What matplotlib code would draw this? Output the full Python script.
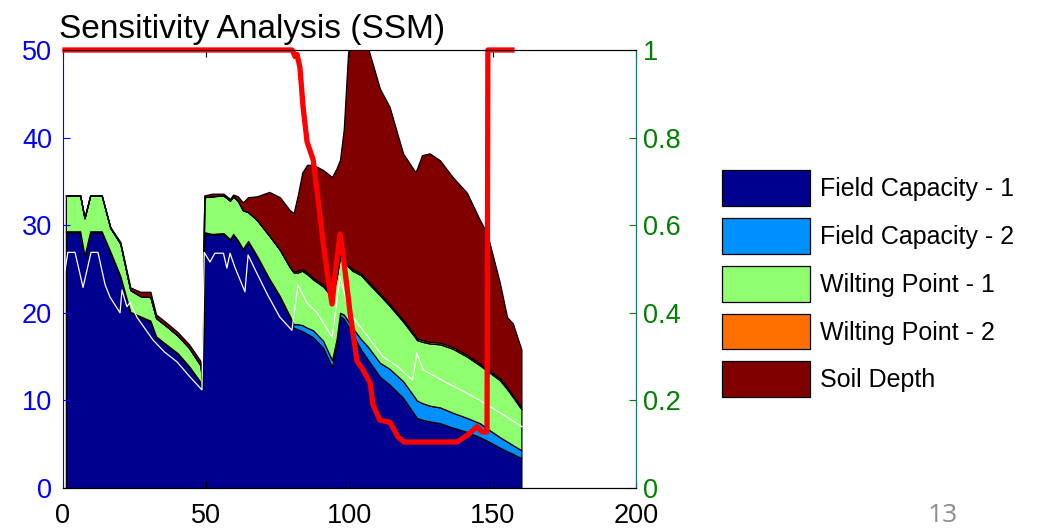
import numpy as np
import matplotlib
matplotlib.use("Agg")
import matplotlib.pyplot as plt

plt.rcParams['font.family'] = ['Liberation Sans', 'DejaVu Sans']

# sample positions along x where the stacked layers were read
x = [1, 6, 7.5, 9.5, 13.5, 16.5, 20, 23.5, 27, 30.5, 32.5, 36, 40, 44, 48, 48.7,
     49.3, 52, 56, 58.3, 59.4, 61, 62.8, 64.6, 67.7, 72, 75.7, 79.2, 80.5, 82,
     83.5, 85.2, 87.3, 90.8, 93.9, 95.5, 96.7, 98, 99.5, 101, 104, 106.5, 110.6,
     114, 118.7, 122.9, 123.5, 125.3, 128, 131.6, 136, 141, 145.5, 148, 152.5,
     155, 157, 160]

# cumulative top of each layer (left axis)
fc1_top = [29.2, 29.2, 26.4, 29.2, 29.2, 26.9, 24.1, 20.0, 19.5, 19.0, 17.2, 16.3,
           15.3, 13.8, 12.0, 11.2, 29.1, 28.9, 29.0, 28.3, 28.9, 28.2, 27.2, 28.1,
           26.4, 23.8, 21.8, 19.5, 18.3, 18.1, 17.9, 17.6, 17.2, 16.0, 13.8, 16.5,
           19.6, 19.3, 18.5, 17.6, 15.8, 14.6, 12.7, 11.8, 10.3, 8.3, 8.0, 7.8,
           7.6, 7.4, 6.9, 6.4, 5.8, 5.4, 4.6, 4.2, 3.9, 3.4]
fc2_top = [29.3, 29.3, 26.5, 29.3, 29.3, 27.0, 24.2, 20.1, 19.6, 19.1, 17.3, 16.4,
           15.4, 13.9, 12.1, 11.3, 29.2, 29.0, 29.1, 28.4, 29.0, 28.3, 27.3, 28.2,
           26.5, 23.9, 21.9, 19.6, 18.7, 18.7, 18.6, 18.3, 18.0, 16.8, 14.6, 17.0,
           20.0, 19.8, 19.1, 18.3, 17.0, 16.1, 14.3, 13.6, 12.2, 10.3, 10.0, 9.7,
           9.4, 9.2, 8.6, 8.0, 7.4, 6.8, 5.8, 5.3, 4.9, 4.3]
wp1_top = [33.4, 33.4, 30.8, 33.4, 33.4, 29.7, 27.9, 22.6, 21.9, 21.8, 19.4, 18.5,
           17.4, 16.0, 14.0, 11.6, 33.2, 33.3, 33.4, 32.8, 33.3, 32.8, 31.7, 31.5,
           30.6, 28.8, 27.2, 25.2, 24.6, 24.6, 24.8, 24.4, 23.8, 23.0, 21.8, 24.0,
           26.4, 25.9, 25.3, 24.8, 24.3, 23.4, 22.0, 20.8, 19.0, 17.2, 16.9, 16.7,
           16.5, 16.4, 15.9, 15.0, 14.0, 13.4, 12.3, 11.3, 10.4, 9.0]
wp2_top = [33.4, 33.4, 30.8, 33.4, 33.4, 29.7, 27.9, 22.6, 21.9, 21.8, 19.4, 18.5,
           17.4, 16.0, 14.0, 11.6, 33.2, 33.3, 33.4, 32.8, 33.3, 32.8, 31.7, 31.5,
           30.6, 28.8, 27.2, 25.2, 24.7, 24.8, 25.0, 24.6, 24.0, 23.2, 22.0, 24.2,
           26.6, 26.1, 25.5, 25.0, 24.5, 23.6, 22.2, 21.0, 19.2, 17.4, 17.1, 16.9,
           16.7, 16.6, 16.1, 15.2, 14.2, 13.6, 12.5, 11.5, 10.6, 9.2]
sd_top = [33.4, 33.4, 30.8, 33.4, 33.4, 29.8, 28.1, 22.9, 22.4, 22.4, 19.8, 18.9,
          17.8, 16.4, 14.5, 12.0, 33.4, 33.6, 33.6, 33.0, 33.5, 33.3, 32.6, 33.2,
          33.3, 33.8, 33.2, 31.7, 31.4, 33.5, 36.0, 36.9, 36.9, 36.3, 35.5, 36.5,
          37.5, 41.0, 49.7, 51.5, 51.5, 50.2, 45.6, 43.5, 38.2, 36.1, 36.4, 38.0,
          38.2, 37.4, 35.5, 33.7, 30.6, 29.1, 23.4, 19.5, 18.8, 15.8]

layer_names = ['Field Capacity - 1', 'Field Capacity - 2', 'Wilting Point - 1',
               'Wilting Point - 2', 'Soil Depth']
layer_colors = ['#00008F', '#008FFF', '#8FFF70', '#FF7000', '#800000']

# white line (left axis)
white_x = [0.7, 1.7, 4.2, 7, 9.8, 12.2, 14.7, 16.4, 19.9, 20.6, 22.3, 23.4, 25.8,
           31.4, 35.5, 39.8, 44, 48.5, 49.3, 51.3, 53, 56, 57.2, 58.3, 60, 63.5,
           64.6, 67.7, 71.5, 75.7, 79.9, 82, 85.2, 88.7, 93.9, 96.7, 100, 104.7,
           111.7, 117, 122, 123.5, 125.7, 134, 140, 145.5, 152, 160.2]
white_y = [24.9, 26.9, 26.9, 22.9, 26.9, 26.9, 23.2, 21.8, 20.0, 22.6, 20.7, 21.2,
           19.5, 16.9, 15.5, 14.4, 12.8, 11.2, 26.9, 25.8, 26.8, 26.8, 25.1, 26.8,
           25.2, 22.4, 26.6, 24.5, 22.0, 19.5, 18.0, 23.2, 21.1, 20.0, 17.2, 24.1,
           20.0, 18.0, 15.0, 13.8, 12.3, 15.4, 13.5, 12.0, 11.0, 10.0, 8.7, 7.0]

# red line (right axis)
red_x = [0.7, 80, 81, 81.7, 82.7, 83.8, 85.2, 87.3, 89, 90.8, 92.5, 93.9, 95, 96.7,
         98, 100.2, 102.6, 104.7, 107.2, 108.2, 110.6, 114.1, 116.9, 119, 137.5,
         141, 144.5, 146.3, 148, 148.3, 156.7]
red_y = [1.0, 1.0, 0.985, 0.99, 0.96, 0.87, 0.79, 0.75, 0.66, 0.56, 0.48, 0.42,
         0.49, 0.58, 0.52, 0.40, 0.29, 0.27, 0.24, 0.19, 0.155, 0.15, 0.117, 0.105,
         0.105, 0.12, 0.14, 0.128, 0.128, 1.0, 1.0]

fig = plt.figure(figsize=(10.44, 5.29), dpi=100)
ax = fig.add_axes([63 / 1044, 41 / 529, 573 / 1044, 438 / 529])

tops = [fc1_top, fc2_top, wp1_top, wp2_top, sd_top]
bottom = np.zeros(len(x))
handles = []
for top, col, name in zip(tops, layer_colors, layer_names):
    h = ax.fill_between(x, bottom, top, facecolor=col, edgecolor='black',
                        linewidth=0.9, label=name)
    handles.append(h)
    bottom = np.array(top)

ax.plot(white_x, white_y, color='white', linewidth=0.9)

ax.set_xlim(0, 200)
ax.set_ylim(0, 50)
ax.set_xticks([0, 50, 100, 150, 200])
ax.set_yticks([0, 10, 20, 30, 40, 50])
ax.tick_params(axis='x', direction='in', top=True, length=5, labelsize=19.5,
               pad=11, colors='black')
ax.tick_params(axis='y', direction='in', length=5, labelsize=19.5, pad=8,
               colors='blue')
ax.spines['left'].set_color('blue')

ax2 = ax.twinx()
ax2.plot(red_x, red_y, color='#FF0000', linewidth=3.8, clip_on=False,
         solid_joinstyle='round')
ax2.set_ylim(0, 1)
ax2.set_yticks([0, 0.2, 0.4, 0.6, 0.8, 1.0])
ax2.set_yticklabels(['0', '0.2', '0.4', '0.6', '0.8', '1'])
ax2.tick_params(axis='y', direction='in', length=5, labelsize=19.5, pad=5,
                colors='green')
ax2.spines['right'].set_color('#1F6F7F')
ax2.spines['left'].set_visible(False)

fig.text(252 / 1044, 1 - 38 / 529, 'Sensitivity Analysis (SSM)', fontsize=24,
         ha='center', va='baseline')

fig.legend(handles, layer_names, loc='upper left',
           bbox_to_anchor=(722 / 1044, 1 - 170 / 529),
           bbox_transform=fig.transFigure, frameon=False, fontsize=18,
           handlelength=3.5, handleheight=1.83, labelspacing=0.48,
           handletextpad=0.4, borderpad=0, borderaxespad=0)

fig.text(943 / 1044, 1 - 522 / 529, '13', fontsize=19, color='#8C8C8C',
         ha='center', va='baseline', family='Open Sans')

fig.savefig('out.png', dpi=100)
